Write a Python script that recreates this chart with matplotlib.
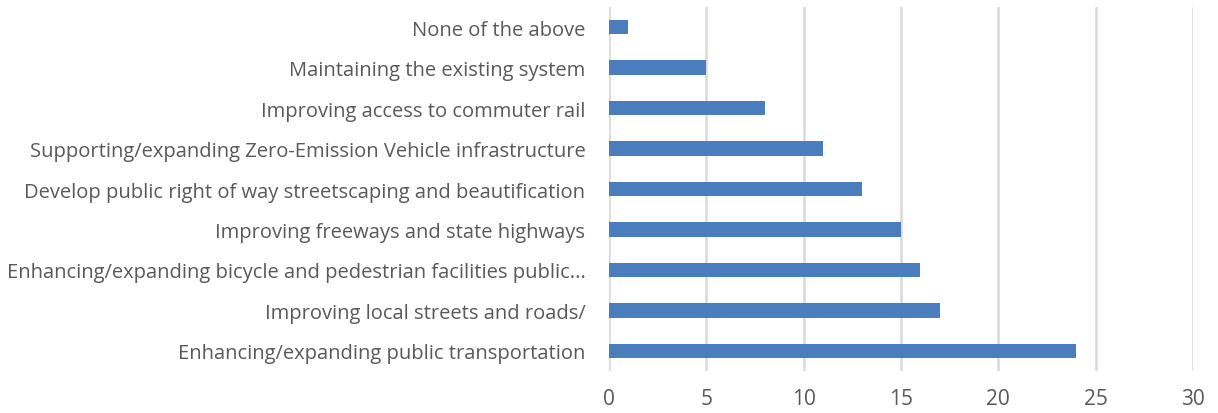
import matplotlib
matplotlib.use("Agg")
import matplotlib.pyplot as plt

categories = [
    "Enhancing/expanding public transportation",
    "Improving local streets and roads/",
    "Enhancing/expanding bicycle and pedestrian facilities public...",
    "Improving freeways and state highways",
    "Develop public right of way streetscaping and beautification",
    "Supporting/expanding Zero-Emission Vehicle infrastructure",
    "Improving access to commuter rail",
    "Maintaining the existing system",
    "None of the above",
]
counts = [24, 17, 16, 15, 13, 11, 8, 5, 1]
x_ticks = [0, 5, 10, 15, 20, 25, 30]

TEXT = "#595959"
BAR = "#4a7dbd"
GRID = "#d9d9d9"

plt.rcParams["font.family"] = ["Open Sans", "DejaVu Sans"]

fig = plt.figure(figsize=(12.18, 4.14), dpi=100)
ax = fig.add_axes([0.5, 0.101, 0.4795, 0.88])

pos = list(range(len(categories)))
ax.barh(pos, counts, height=0.355, color=BAR, zorder=3)

ax.set_xlim(0, 30)
ax.set_ylim(-0.5, len(categories) - 0.5)
ax.set_xticks(x_ticks)
ax.set_yticks(pos)
ax.set_yticklabels(categories)
ax.grid(axis="x", color=GRID, linewidth=1.8, zorder=0)
ax.set_axisbelow(True)

for side in ax.spines.values():
    side.set_visible(False)
ax.tick_params(axis="both", length=0, colors=TEXT)
ax.tick_params(axis="y", pad=17, labelsize=14.5)
ax.tick_params(axis="x", pad=12, labelsize=15)

fig.savefig("out.png", dpi=100)
